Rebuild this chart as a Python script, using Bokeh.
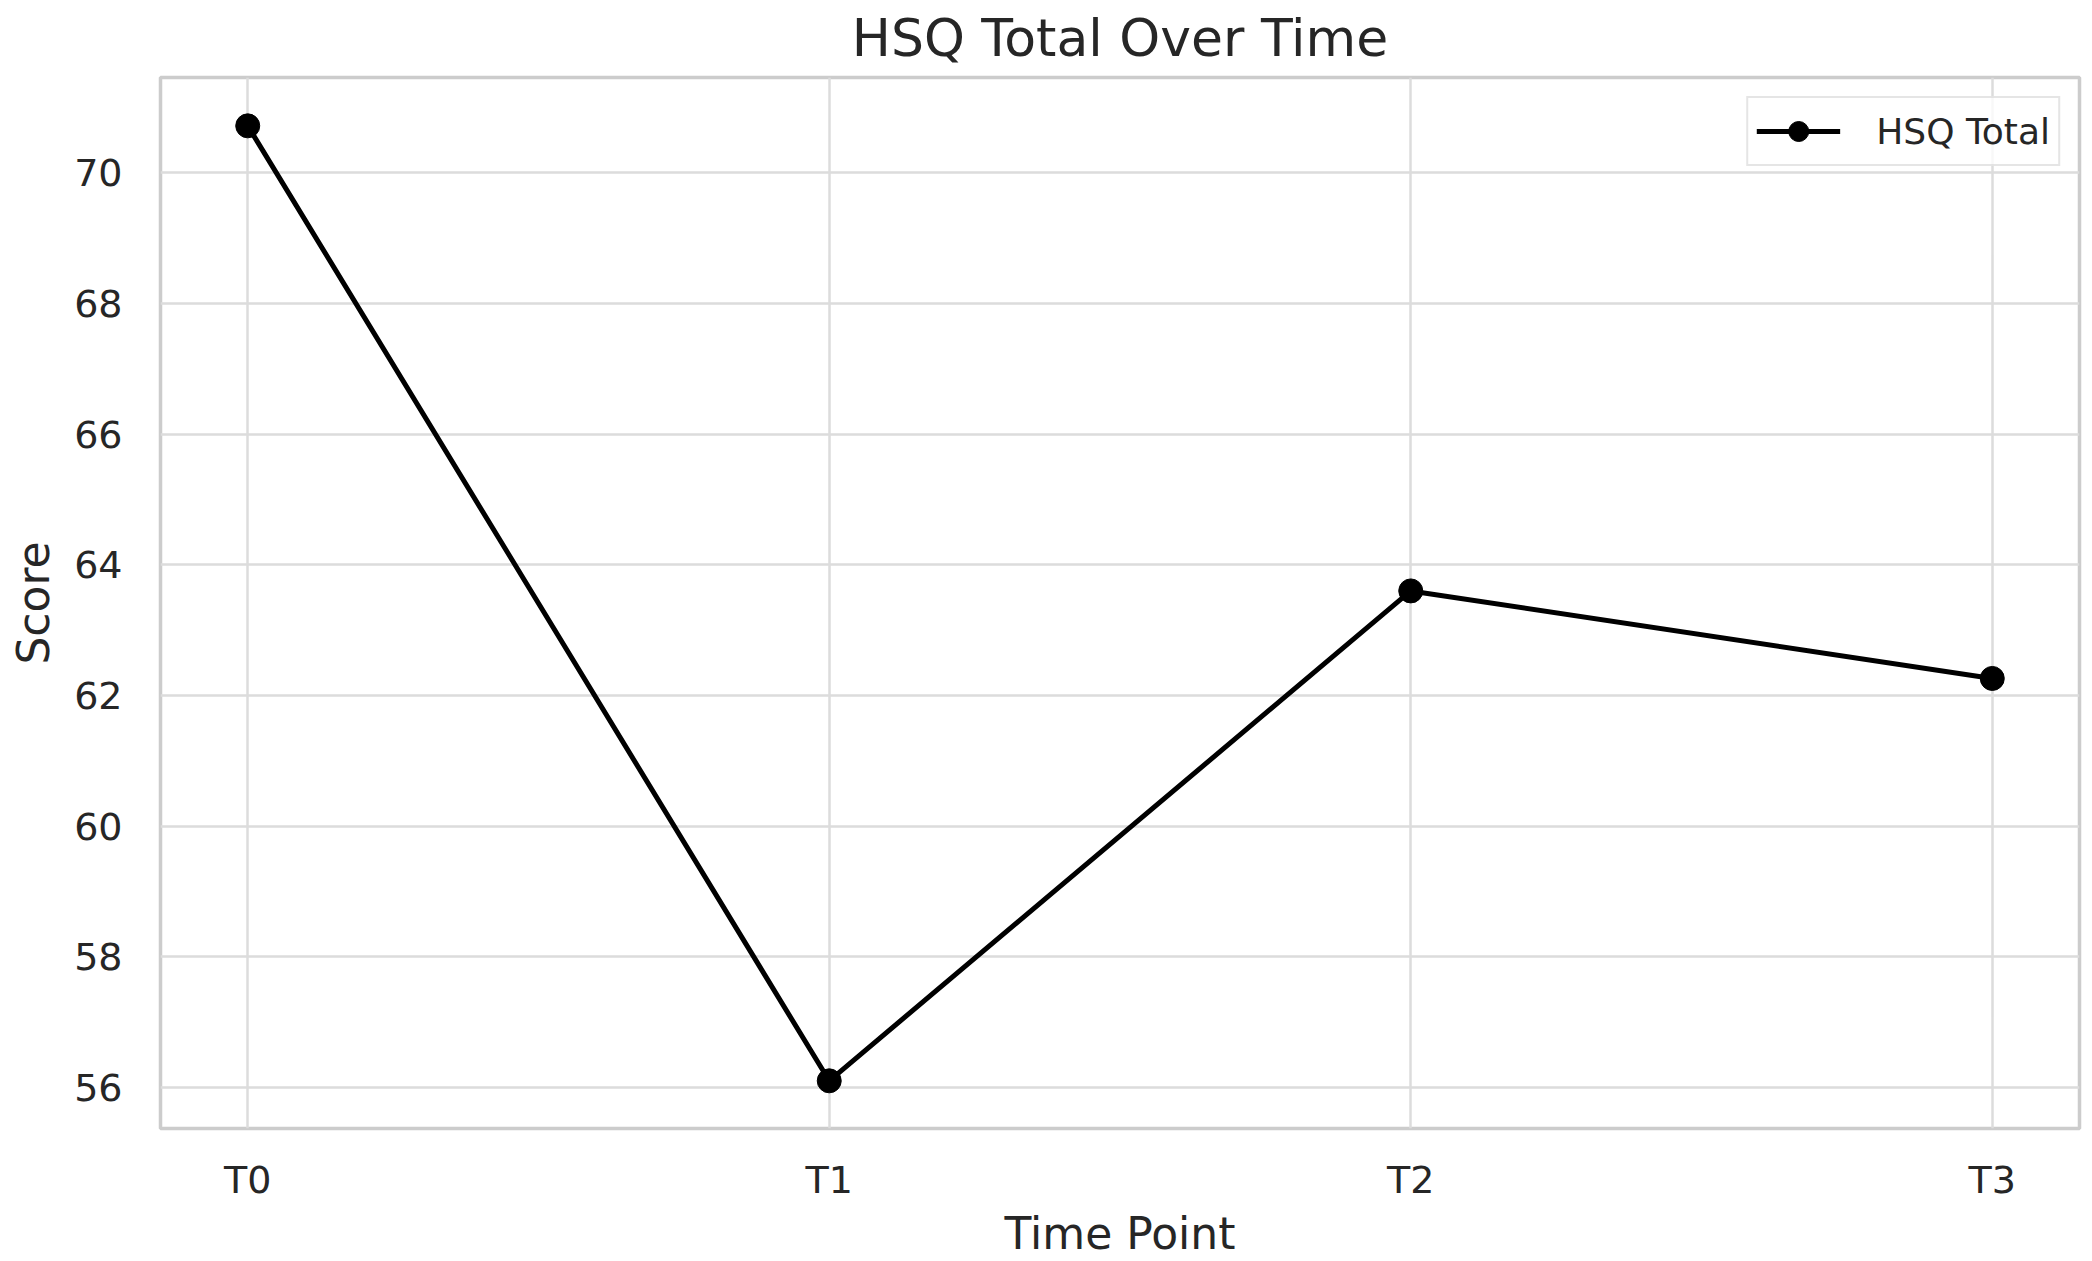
from bokeh.plotting import figure
from bokeh.models import Range1d, FixedTicker, Legend, LegendItem, ColumnDataSource, Title
from bokeh.embed import file_html
from bokeh.resources import INLINE

# Data
time_points = ["T0", "T1", "T2", "T3"]
x_positions = [0, 1, 2, 3]
hsq_total = [70.72, 56.10, 63.60, 62.26]
y_ticks = [56, 58, 60, 62, 64, 66, 68, 70]
series_name = "HSQ Total"

FONT = "DejaVu Sans"
TXT = "#262626"

source = ColumnDataSource(dict(x=x_positions, y=hsq_total))

p = figure(width=2092, height=1261, output_backend="svg", toolbar_location=None,
           x_range=Range1d(-0.15, 3.15), y_range=Range1d(55.37, 71.46),
           min_border_left=160, min_border_right=13, min_border_top=75, min_border_bottom=129)

p.title = Title(text="HSQ Total Over Time", align="center", text_font=FONT,
                text_font_size="52px", text_font_style="normal", text_color=TXT,
                vertical_align="top", standoff=15, text_line_height=1.0)

p.background_fill_color = "white"
p.border_fill_color = "white"
p.outline_line_color = "#cccccc"
p.outline_line_width = 3.5

for g in (p.xgrid, p.ygrid):
    g.grid_line_color = "#dcdcdc"
    g.grid_line_width = 2.5

p.xaxis.ticker = FixedTicker(ticks=x_positions)
p.xaxis.major_label_overrides = {xp: lab for xp, lab in zip(x_positions, time_points)}
p.yaxis.ticker = FixedTicker(ticks=y_ticks)
p.xgrid.ticker = FixedTicker(ticks=x_positions)
p.ygrid.ticker = FixedTicker(ticks=y_ticks)

for ax in (p.xaxis, p.yaxis):
    ax.axis_line_color = None
    ax.major_tick_line_color = None
    ax.minor_tick_line_color = None
    ax.major_tick_in = 0
    ax.major_tick_out = 0
    ax.major_label_text_font = FONT
    ax.major_label_text_font_size = "38px"
    ax.major_label_text_color = TXT
    ax.major_label_text_line_height = 1.0
    ax.axis_label_text_font = FONT
    ax.axis_label_text_font_size = "44px"
    ax.axis_label_text_font_style = "normal"
    ax.axis_label_text_color = TXT
    ax.axis_label_text_line_height = 1.0

p.xaxis.axis_label = "Time Point"
p.yaxis.axis_label = "Score"
p.xaxis.major_label_standoff = 29
p.yaxis.major_label_standoff = 38
p.xaxis.axis_label_standoff = 3
p.yaxis.axis_label_standoff = 12

line_r = p.line("x", "y", source=source, line_color="black", line_width=5)
dot_r = p.scatter("x", "y", source=source, size=24, fill_color="black", line_color="black")

legend = Legend(items=[LegendItem(label=series_name, renderers=[line_r, dot_r])],
                location="top_right", label_text_font=FONT, label_text_font_size="36px",
                label_text_color=TXT, border_line_color="#cccccc", border_line_width=2,
                background_fill_color="white", background_fill_alpha=0.8,
                glyph_width=84, glyph_height=50, label_standoff=36,
                padding=8, margin=19)
p.add_layout(legend)

open("out.html", "w").write(file_html(p, INLINE))
